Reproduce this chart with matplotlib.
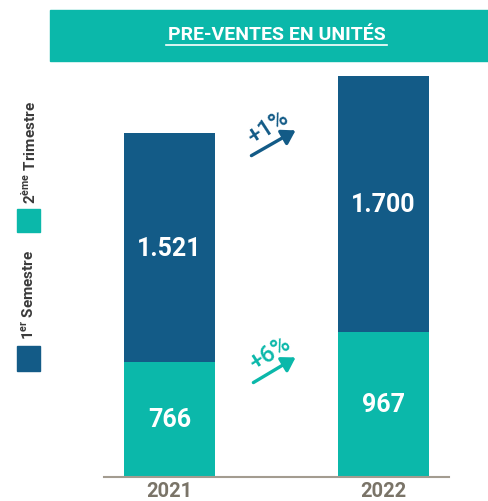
import matplotlib
matplotlib.use("Agg")
import matplotlib.pyplot as plt
from matplotlib.patches import Rectangle, FancyArrowPatch

plt.rcParams['font.family'] = ['Roboto', 'DejaVu Sans']
plt.rcParams['mathtext.fontset'] = 'custom'
plt.rcParams['mathtext.rm'] = 'Roboto'
plt.rcParams['mathtext.bf'] = 'Roboto:bold'

years = ["2021", "2022"]
bottom_vals = [766, 967]        # 2ème Trimestre (teal)
top_vals = [1521, 1700]         # 1er Semestre (dark blue)
bottom_labels = ["766", "967"]
top_labels = ["1.521", "1.700"]
growth_labels = ["+1%", "+6%"]
title = "PRE-VENTES EN UNITÉS"

TEAL = "#0bb8aa"
DARK = "#135b87"
GREY = "#7a7468"
AXIS = "#a39c90"

W, H = 489, 502
fig = plt.figure(figsize=(W / 100, H / 100), dpi=100)

def fx(px):
    return px / W

def fy(py):
    return 1 - py / H

# axes: x pixel 104..449, baseline y=478
ymax = 2700
ax_left, ax_right = 104, 449
base = 478
scale = 0.1502
ax_top = base - ymax * scale
ax = fig.add_axes([fx(ax_left), fy(base), fx(ax_right) - fx(ax_left), (base - ax_top) / H])
x = [0, 1]
width = 0.425
ax.bar(x, bottom_vals, width=width, color=TEAL, zorder=2)
ax.bar(x, top_vals, width=width, bottom=bottom_vals, color=DARK, zorder=2)
ax.set_xlim(-0.306, 1.306)
ax.set_ylim(0, ymax)
for s in ["top", "right", "left"]:
    ax.spines[s].set_visible(False)
ax.spines["bottom"].set_color(AXIS)
ax.spines["bottom"].set_linewidth(1.5)
ax.set_yticks([])
ax.set_xticks(x)
ax.set_xticklabels(years, fontsize=14.5, fontweight="bold", color=GREY)
ax.tick_params(axis="x", length=0, pad=3)
ax.patch.set_alpha(0)

for i in range(2):
    ax.text(x[i], bottom_vals[i] / 2, bottom_labels[i], ha="center", va="center",
            color="white", fontsize=18, fontweight="bold")
    ax.text(x[i], bottom_vals[i] + top_vals[i] / 2, top_labels[i], ha="center", va="center",
            color="white", fontsize=18, fontweight="bold")

# title box
fig.patches.append(Rectangle((fx(50), fy(62)), fx(489) - fx(50), (62 - 11) / H,
                             transform=fig.transFigure, color=TEAL, zorder=0))
t = fig.text(fx(276.5), fy(35.5), title, ha="center", va="center", color="white",
             fontsize=14, fontweight="bold")
fig.add_artist(plt.Line2D([fx(166), fx(387)], [fy(45.5), fy(45.5)], color="white",
                          lw=1.2, transform=fig.transFigure))

# growth annotations
for (tx, ty, ax0, ay0, ax1, ay1, col, lab) in [
        (268, 128, 249, 158, 298, 130, DARK, growth_labels[0]),
        (270, 354, 251, 385, 298, 357, TEAL, growth_labels[1])]:
    fig.text(fx(tx), fy(ty), lab, ha="center", va="center", rotation=33,
             color=col, fontsize=17, fontweight="medium")
    arr = FancyArrowPatch((fx(ax0), fy(ay0)), (fx(ax1), fy(ay1)), transform=fig.transFigure,
                          arrowstyle="-|>,head_length=8,head_width=5", color=col, lw=2.4,
                          mutation_scale=1)
    fig.add_artist(arr)

# legend
fig.patches.append(Rectangle((fx(17), fy(372)), fx(40) - fx(17), 25 / H,
                             transform=fig.transFigure, color=DARK))
fig.patches.append(Rectangle((fx(17), fy(233)), fx(40) - fx(17), 23 / H,
                             transform=fig.transFigure, color=TEAL))
fig.text(fx(29), fy(340), r"1$^{\mathbf{er}}$ Semestre", rotation=90, ha="center", va="bottom",
         fontsize=11, fontweight="bold", color="#3a3a3a")
fig.text(fx(29), fy(204), r"2$^{\mathbf{ème}}$ Trimestre", rotation=90, ha="center", va="bottom",
         fontsize=11, fontweight="bold", color="#3a3a3a")

fig.savefig("out.png", dpi=100)
